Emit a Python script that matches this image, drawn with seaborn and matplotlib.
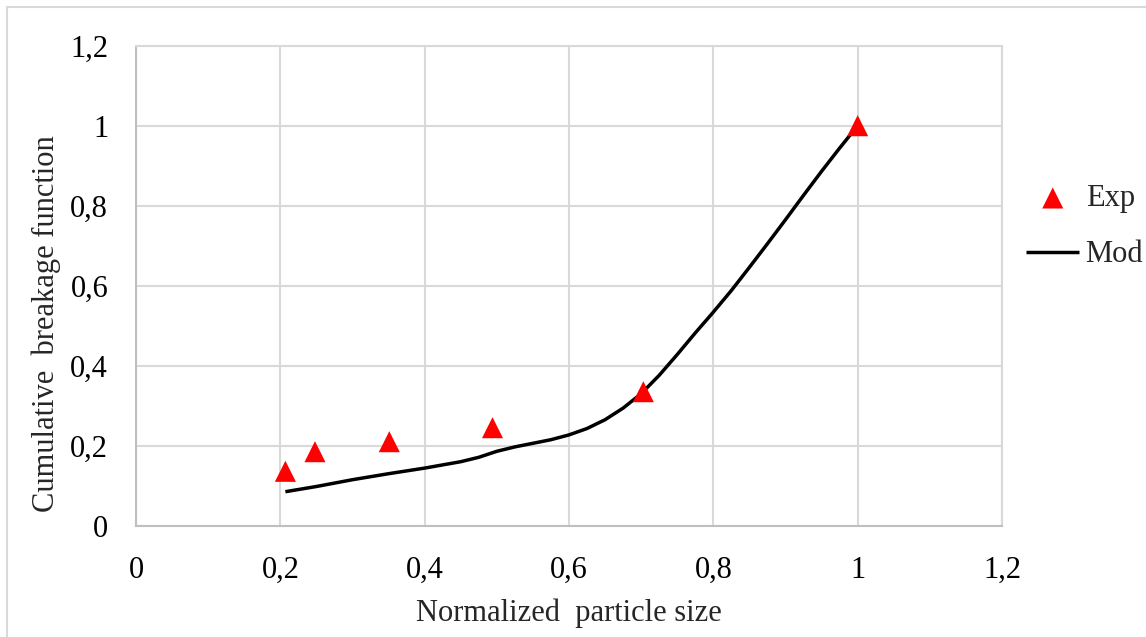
import numpy as np
import pandas as pd
import matplotlib
matplotlib.use("Agg")
import matplotlib.pyplot as plt
from matplotlib.patches import Rectangle
from matplotlib.ticker import FuncFormatter, MultipleLocator
import seaborn as sns

# Experimental cumulative breakage function
exp_size = [0.207, 0.248, 0.351, 0.494, 0.703, 1.0]
exp_value = [0.136, 0.185, 0.210, 0.245, 0.335, 1.0]

# Model curve
mod_size = [0.207, 0.25, 0.30, 0.35, 0.40, 0.45, 0.475, 0.50, 0.525, 0.55,
            0.575, 0.60, 0.625, 0.65, 0.675, 0.70, 0.725, 0.75, 0.775, 0.80,
            0.825, 0.85, 0.875, 0.90, 0.925, 0.95, 0.975, 1.0]
mod_value = [0.085, 0.098, 0.115, 0.130, 0.144, 0.160, 0.171, 0.186, 0.197, 0.206,
             0.215, 0.227, 0.243, 0.265, 0.294, 0.330, 0.376, 0.428, 0.482, 0.534,
             0.588, 0.646, 0.705, 0.765, 0.826, 0.886, 0.944, 1.0]

exp_df = pd.DataFrame({"size": exp_size, "value": exp_value, "series": "Exp"})
mod_df = pd.DataFrame({"size": mod_size, "value": mod_value, "series": "Mod"})

sns.set_style("white")
plt.rcParams["font.family"] = ["Liberation Serif", "DejaVu Serif"]

W, H = 1146, 637
fig = plt.figure(figsize=(W / 100, H / 100), dpi=100)
ax = fig.add_axes([136 / W, 1 - 525.7 / H, (1002 - 136) / W, (525.7 - 45.7) / H])

sns.lineplot(data=mod_df, x="size", y="value", ax=ax, color="black",
             linewidth=2.5, label="Mod", sort=False, zorder=3,
             solid_joinstyle="round", solid_capstyle="butt")
sns.scatterplot(data=exp_df, x="size", y="value", ax=ax, color="#ff0000",
                marker="^", s=230, edgecolor="none", label="Exp", zorder=4,
                clip_on=False)

ax.set_xlim(0, 1.2)
ax.set_ylim(0, 1.2)
ax.xaxis.set_major_locator(MultipleLocator(0.2))
ax.yaxis.set_major_locator(MultipleLocator(0.2))
fmt = FuncFormatter(lambda v, pos: f"{round(v, 1):g}".replace(".", ","))
ax.xaxis.set_major_formatter(fmt)
ax.yaxis.set_major_formatter(fmt)

ax.grid(True, color="#d9d9d9", linewidth=1.5)
ax.set_axisbelow(True)
for side in ["top", "right"]:
    ax.spines[side].set_color("#d9d9d9")
    ax.spines[side].set_linewidth(1.5)
for side in ["left", "bottom"]:
    ax.spines[side].set_color("#bfbfbf")
    ax.spines[side].set_linewidth(1.5)

ax.tick_params(axis="both", length=0, labelsize=22, colors="black")
ax.tick_params(axis="y", pad=20)
ax.tick_params(axis="x", pad=22)

ax.set_xlabel("Normalized  particle size", fontsize=22)
ax.set_ylabel("Cumulative  breakage function", fontsize=22)
ax.xaxis.set_label_coords(0.5, (525.7 - 613) / 480, transform=ax.transAxes)
ax.yaxis.set_label_coords((46 - 136) / 866, (525.7 - 324) / 480, transform=ax.transAxes)
ax.xaxis.label.set_va("center")
ax.yaxis.label.set_va("center")

handles, labels = ax.get_legend_handles_labels()
order = [labels.index("Exp"), labels.index("Mod")]
ax.legend([handles[i] for i in order], [labels[i] for i in order],
          loc="upper left", bbox_to_anchor=(1026 / W, 1 - 184 / H),
          bbox_transform=fig.transFigure, frameon=False, fontsize=22,
          handlelength=1.75, handletextpad=0.2, labelspacing=0.9,
          borderpad=0, borderaxespad=0, markerscale=1.0)

# Chart frame
fig.patches.append(Rectangle((7 / W, -0.1), 1.2, 1.1 - 7 / H,
                             transform=fig.transFigure, fill=False,
                             edgecolor="#d9d9d9", linewidth=1.5))

fig.savefig("out.png", dpi=100)
